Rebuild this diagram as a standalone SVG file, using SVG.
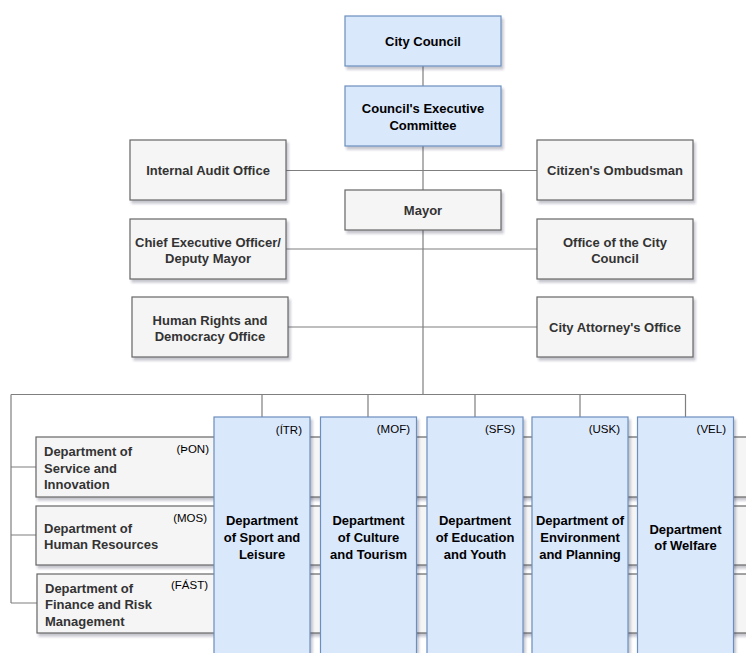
<svg xmlns="http://www.w3.org/2000/svg" width="746" height="653" viewBox="0 0 746 653">
<defs>
<filter id="sh" x="-10%" y="-10%" width="130%" height="130%">
<feDropShadow dx="2" dy="3" stdDeviation="1.2" flood-color="#333355" flood-opacity="0.28"/>
</filter>
</defs>
<style>
.blue{fill:#dae8fc;stroke:#6c8ebf;stroke-width:1.2;filter:url(#sh)}
.grey{fill:#f5f5f5;stroke:#666666;stroke-width:1.2;filter:url(#sh)}
.bt{font-family:"Liberation Sans",Arial,Helvetica,sans-serif;font-size:13px;font-weight:bold;fill:#000;text-anchor:middle}
.gt{font-family:"Liberation Sans",Arial,Helvetica,sans-serif;font-size:13px;font-weight:bold;fill:#333333;text-anchor:middle}
.gl{font-family:"Liberation Sans",Arial,Helvetica,sans-serif;font-size:13px;font-weight:bold;fill:#333333;text-anchor:start}
.code{font-family:"Liberation Sans",Arial,Helvetica,sans-serif;font-size:11.5px;fill:#000;text-anchor:end}
.c{fill:none;stroke:#7f7f7f;stroke-width:1.2}
</style>
<rect width="746" height="653" fill="#ffffff"/>
<g id="connectors">
<path class="c" d="M423 66V394"/>
<path class="c" d="M286 170.5H537"/>
<path class="c" d="M286 249H537"/>
<path class="c" d="M288 327H537"/>
<path class="c" d="M11 394.5H685.5"/>
<path class="c" d="M262 394.5V417M368 394.5V417M475 394.5V417M580 394.5V417M685.5 394.5V417"/>
<path class="c" d="M11 394.5V603"/>
<path class="c" d="M11 467H36M11 535H36M11 603H37"/>
</g>
<g id="city-council"><rect class="blue" x="345" y="16" width="156" height="50"/><text class="bt" x="423" y="46">City Council</text></g>
<g id="executive-committee"><rect class="blue" x="345" y="86" width="156" height="60"/><text class="bt" x="423" y="113">Council's Executive</text><text class="bt" x="423" y="130">Committee</text></g>
<g id="internal-audit"><rect class="grey" x="130" y="140" width="156" height="60"/><text class="gt" x="208" y="175">Internal Audit Office</text></g>
<g id="ombudsman"><rect class="grey" x="537" y="140" width="156" height="60"/><text class="gt" x="615" y="175">Citizen's Ombudsman</text></g>
<g id="mayor"><rect class="grey" x="345" y="190" width="156" height="40"/><text class="gt" x="423" y="215">Mayor</text></g>
<g id="ceo"><rect class="grey" x="130" y="219" width="156" height="60"/><text class="gt" x="208" y="246.5">Chief Executive Officer/</text><text class="gt" x="208" y="263">Deputy Mayor</text></g>
<g id="office-city-council"><rect class="grey" x="537" y="219" width="156" height="60"/><text class="gt" x="615" y="246.5">Office of the City</text><text class="gt" x="615" y="263">Council</text></g>
<g id="human-rights"><rect class="grey" x="132" y="297" width="156" height="60"/><text class="gt" x="210" y="324.5">Human Rights and</text><text class="gt" x="210" y="341">Democracy Office</text></g>
<g id="city-attorney"><rect class="grey" x="537" y="297" width="156" height="60"/><text class="gt" x="615" y="332">City Attorney's Office</text></g>
<g id="service-innovation"><rect class="grey" x="36" y="437" width="730" height="60"/><text class="gl" x="44" y="455.5">Department of</text><text class="gl" x="44" y="472.5">Service and</text><text class="gl" x="44" y="489">Innovation</text><text class="code" x="209" y="453">(ÞON)</text></g>
<g id="human-resources"><rect class="grey" x="36" y="506" width="730" height="59"/><text class="gl" x="44" y="532.5">Department of</text><text class="gl" x="44" y="549">Human Resources</text><text class="code" x="207" y="522">(MOS)</text></g>
<g id="finance"><rect class="grey" x="37" y="574" width="730" height="59"/><text class="gl" x="45" y="592.5">Department of</text><text class="gl" x="45" y="609">Finance and Risk</text><text class="gl" x="45" y="625.5">Management</text><text class="code" x="208" y="589">(FÁST)</text></g>
<g id="sport-leisure"><rect class="blue" x="214" y="417" width="96" height="260"/><text class="code" x="302" y="434">(ÍTR)</text><text class="bt" x="262" y="525">Department</text><text class="bt" x="262" y="542">of Sport and</text><text class="bt" x="262" y="558.5">Leisure</text></g>
<g id="culture-tourism"><rect class="blue" x="320.5" y="417" width="96" height="260"/><text class="code" x="410" y="433">(MOF)</text><text class="bt" x="368.5" y="525">Department</text><text class="bt" x="368.5" y="542">of Culture</text><text class="bt" x="368.5" y="558.5">and Tourism</text></g>
<g id="education-youth"><rect class="blue" x="427" y="417" width="96" height="260"/><text class="code" x="515" y="433">(SFS)</text><text class="bt" x="475" y="525">Department</text><text class="bt" x="475" y="542">of Education</text><text class="bt" x="475" y="558.5">and Youth</text></g>
<g id="environment-planning"><rect class="blue" x="532" y="417" width="96" height="260"/><text class="code" x="620" y="433">(USK)</text><text class="bt" x="580" y="525">Department of</text><text class="bt" x="580" y="542">Environment</text><text class="bt" x="580" y="558.5">and Planning</text></g>
<g id="welfare"><rect class="blue" x="637.5" y="417" width="96" height="260"/><text class="code" x="726" y="433">(VEL)</text><text class="bt" x="685.5" y="533.5">Department</text><text class="bt" x="685.5" y="550">of Welfare</text></g>
</svg>
